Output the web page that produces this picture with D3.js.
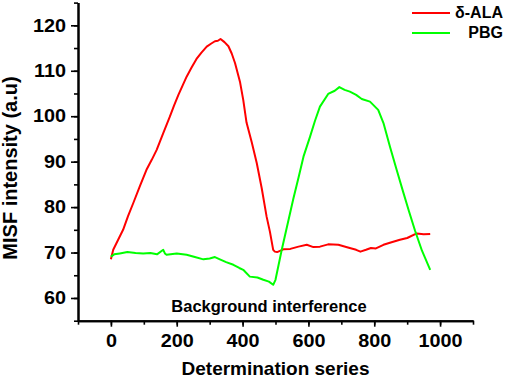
<!DOCTYPE html>
<html>
<head>
<meta charset="utf-8">
<script src="https://cdn.jsdelivr.net/npm/d3@7"></script>
<style>
  body { margin: 0; background: #fff; }
  svg { display: block; font-family: "Liberation Sans", Arial, sans-serif; font-weight: bold; }
</style>
</head>
<body>
<svg id="chart"></svg>
<script>
// series
const alaX = [0, 7, 22, 37, 52, 68, 88, 108, 124, 139, 159, 179, 192, 205, 218, 230, 245, 260, 275, 291, 305, 316, 325, 333, 345, 357, 367, 377, 392, 402, 412, 428, 443, 458, 473, 483, 493, 498, 505, 524, 545, 570, 595, 615, 635, 660, 691, 720, 745, 758, 775, 790, 805, 828, 850, 878, 900, 929, 950, 970]
const alaY = [68.5, 70.6, 72.8, 75.0, 78.0, 80.9, 84.6, 88.2, 90.4, 92.6, 96.3, 99.9, 102.4, 104.7, 106.8, 108.7, 110.7, 112.6, 114.0, 115.3, 116.0, 116.5, 116.6, 117.0, 116.3, 115.4, 113.8, 111.7, 107.6, 103.6, 98.6, 94.2, 89.7, 84.2, 77.9, 74.6, 70.6, 70.2, 70.1, 70.7, 70.8, 71.3, 71.7, 71.2, 71.3, 71.8, 71.7, 71.1, 70.6, 70.2, 70.6, 71.0, 70.9, 71.7, 72.2, 72.8, 73.2, 74.2, 74.0, 74.1]

const pbgX = [0, 10, 27, 50, 75, 98, 120, 140, 159, 164, 169, 200, 230, 255, 281, 300, 316, 331, 350, 372, 390, 402, 422, 445, 463, 480, 493, 500, 519, 539, 554, 570, 585, 605, 620, 635, 660, 680, 694, 710, 726, 745, 762, 787, 812, 828, 848, 868, 888, 905, 924, 945, 970]
const pbgY = [69.1, 69.6, 69.8, 70.1, 69.9, 69.8, 69.9, 69.6, 70.6, 69.8, 69.5, 69.8, 69.5, 69.0, 68.5, 68.7, 69.0, 68.5, 67.9, 67.3, 66.6, 66.2, 64.7, 64.5, 64.0, 63.6, 62.9, 64.0, 70.6, 77.0, 81.8, 86.5, 91.1, 95.5, 99.0, 102.1, 104.9, 105.6, 106.4, 105.8, 105.4, 104.7, 103.8, 103.2, 101.4, 98.5, 93.2, 88.2, 83.3, 79.2, 74.8, 70.4, 66.2]

const xTicks = [0, 200, 400, 600, 800, 1000]
const yTicks = [60, 70, 80, 90, 100, 110, 120]
const seriesNames = ['δ-ALA', '  PBG']
const seriesColors = ['#ff0000', '#00ff00']

const width = 505, height = 378

const svg = d3.select('#chart')
    .attr('width', width)
    .attr('height', height)

// scales fitted to the axis frame of the picture
const xScale = d3.scaleLinear().domain([-100, 1100]).range([78, 473])
const yScale = d3.scaleLinear().domain([55, 125]).range([320.7, 2.6])

// minor ticks first, so major ticks draw on top
svg.append('g')
    .attr('transform', 'translate(0,320.7)')
    .call(d3.axisBottom(xScale).tickValues(d3.range(-100, 1101, 100)).tickSize(4).tickSizeOuter(0).tickFormat(''))
svg.append('g')
    .attr('transform', 'translate(78,0)')
    .call(d3.axisLeft(yScale).tickValues(d3.range(55, 126, 5)).tickSize(4).tickSizeOuter(0).tickFormat(''))

const xAxis = svg.append('g')
    .attr('transform', 'translate(0,320.7)')
    .call(d3.axisBottom(xScale).tickValues(xTicks).tickSize(6).tickSizeOuter(0).tickPadding(8).tickFormat(d3.format('d')))
const yAxis = svg.append('g')
    .attr('transform', 'translate(78,0)')
    .call(d3.axisLeft(yScale).tickValues(yTicks).tickSize(7).tickSizeOuter(0).tickPadding(5).tickFormat(d3.format('d')))

svg.selectAll('.domain').attr('stroke', '#000').attr('stroke-width', 2)
svg.selectAll('.tick line').attr('stroke', '#000').attr('stroke-width', 1.6)
svg.selectAll('.tick text')
    .attr('font-size', 18)
    .attr('font-weight', 'bold')
    .attr('fill', '#000')
    .attr('font-family', '"Liberation Sans", Arial, sans-serif')
// tick labels in the picture are slightly wider than the font
xAxis.selectAll('.tick text').attr('transform', 'scale(1.1,1)')
yAxis.selectAll('.tick text').attr('transform', 'scale(1.1,1)').attr('x', -11)

// curves
const line = d3.line()
    .x(d => xScale(d[0]))
    .y(d => yScale(d[1]))

const series = [d3.zip(alaX, alaY), d3.zip(pbgX, pbgY)]

svg.selectAll('.curve')
    .data(series)
    .enter().append('path')
    .attr('class', 'curve')
    .attr('fill', 'none')
    .attr('stroke', (d, i) => seriesColors[i])
    .attr('stroke-width', 2)
    .attr('stroke-linejoin', 'round')
    .attr('d', line)

// axis titles
svg.append('text')
    .attr('x', (xScale(-100) + xScale(1100)) / 2)
    .attr('y', 375)
    .attr('text-anchor', 'middle')
    .attr('font-size', 19)
    .text('Determination series')

svg.append('text')
    .attr('transform', 'translate(17,168) rotate(-90)')
    .attr('text-anchor', 'middle')
    .attr('font-size', 20)
    .text('MISF intensity (a.u)')

svg.append('text')
    .attr('x', 269)
    .attr('y', 312)
    .attr('text-anchor', 'middle')
    .attr('font-size', 16.5)
    .text('Background interference')

// legend
const legend = svg.append('g')
seriesNames.forEach((name, i) => {
    const y = 13 + i * 20
    legend.append('line')
        .attr('x1', 412).attr('x2', 450)
        .attr('y1', y).attr('y2', y)
        .attr('stroke', seriesColors[i])
        .attr('stroke-width', 2)
    legend.append('text')
        .attr('x', 503)
        .attr('y', y + 5)
        .attr('text-anchor', 'end')
        .attr('font-size', 16)
        .style('white-space', 'pre')
        .text(name)
})
</script>
</body>
</html>
